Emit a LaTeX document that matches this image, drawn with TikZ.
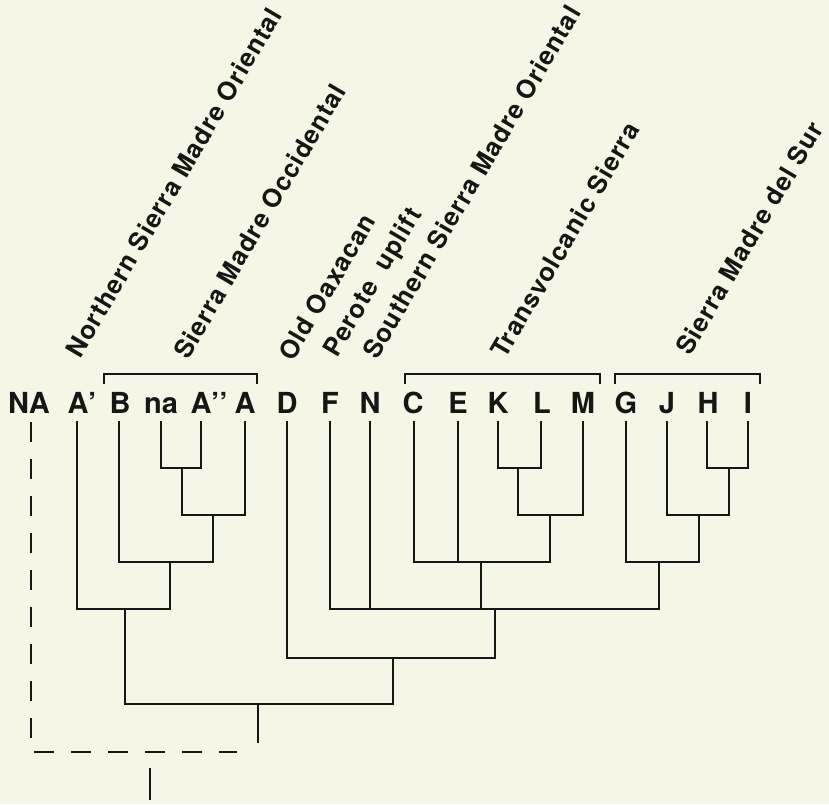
\documentclass[tikz,border=0pt]{standalone}
\usepackage{fontspec}
\setmainfont{TeX Gyre Heros}
\newfontfamily\spacedsans[LetterSpace=4]{TeX Gyre Heros}
\definecolor{paper}{RGB}{246,246,230}
\definecolor{ink}{RGB}{22,22,20}
\begin{document}
\begin{tikzpicture}[x=1pt,y=-1pt,
  branch/.style={draw=ink,line width=2.6pt,line cap=rect,line join=miter},
  guess/.style={draw=ink,line width=2.6pt,dash pattern=on 20pt off 17pt},
  brace/.style={draw=ink,line width=1.3pt},
  taxon/.style={inner sep=0pt,anchor=base,font=\fontsize{29}{29}\selectfont\bfseries,text=ink},
  region/.style={inner sep=0pt,anchor=base west,rotate=59.5,font=\spacedsans\fontsize{25.5}{25.5}\selectfont\bfseries,text=ink}]
\fill[paper] (0,0) rectangle (829,804);
\useasboundingbox (0,0) rectangle (829,804);

% terminal labels
\node[taxon] (NA) at (29,413) {NA};
\node[taxon] (Ap) at (78,413) {A\rlap{’}};
\node[taxon] (B)  at (120,413) {B};
\node[taxon] (na) at (161,413) {na};
\node[taxon] (App) at (201,413) {A\rlap{’’}};
\node[taxon] (A)  at (245,413) {A};
\node[taxon] (D)  at (287,413) {D};
\node[taxon] (F)  at (330,413) {F};
\node[taxon] (N)  at (370,413) {N};
\node[taxon] (C)  at (413,413) {C};
\node[taxon] (E)  at (458,413) {E};
\node[taxon] (K)  at (498,413) {K};
\node[taxon] (L)  at (542,413) {L};
\node[taxon] (M)  at (583,413) {M};
\node[taxon] (G)  at (626,413) {G};
\node[taxon] (J)  at (667,413) {J};
\node[taxon] (H)  at (708,413) {H};
\node[taxon] (I)  at (748,413) {I};

% area names
\node[region] (nsmo) at (80,360) {Northern Sierra Madre Oriental};
\node[region] (smoc) at (188,361) {Sierra Madre Occidental};
\node[region] (oax)  at (293,363) {Old Oaxacan};
\node[region] (per)  at (337,359) {Perote\ \ uplift};
\node[region] (ssmo) at (377,361) {Southern Sierra Madre Oriental};
\node[region] (tvs)  at (505,360) {Transvolcanic Sierra};
\node[region] (smds) at (690,357) {Sierra Madre del Sur};

% brackets over grouped areas
\draw[brace] (104,384) -- (104,374) -- (257,374) -- (257,384);
\draw[brace] (405,384) -- (405,374) -- (600,374) -- (600,384);
\draw[brace] (615,384) -- (615,374) -- (760,374) -- (760,384);

% tips of terminal branches
\coordinate (tNA) at (31,422);
\coordinate (tAp) at (77,422);
\coordinate (tB)  at (119,422);
\coordinate (tna) at (161,422);
\coordinate (tApp) at (201,422);
\coordinate (tA)  at (245,422);
\coordinate (tD)  at (287,422);
\coordinate (tF)  at (330,422);
\coordinate (tN)  at (370,422);
\coordinate (tC)  at (414,422);
\coordinate (tE)  at (458,422);
\coordinate (tK)  at (498,422);
\coordinate (tL)  at (541,422);
\coordinate (tM)  at (583,422);
\coordinate (tG)  at (626,422);
\coordinate (tJ)  at (667,422);
\coordinate (tH)  at (707,422);
\coordinate (tI)  at (748,422);

% internal nodes
\coordinate (nNaA) at (182,468);
\coordinate (nNaAA) at (213,515);
\coordinate (nB) at (170,562);
\coordinate (nW) at (125,609);
\coordinate (nKL) at (518,468);
\coordinate (nKLM) at (550,515);
\coordinate (nCE) at (481,562);
\coordinate (nHI) at (729,468);
\coordinate (nJHI) at (699,515);
\coordinate (nG) at (659,562);
\coordinate (nS) at (495,609);
\coordinate (nD) at (393,658);
\coordinate (root) at (258,704);
\coordinate (rootend) at (258,742);

% western clade
\draw[branch] (tna) |- (nNaA) -| (tApp);
\draw[branch] (nNaA) |- (nNaAA) -| (tA);
\draw[branch] (tB) |- (nB) -| (nNaAA);
\draw[branch] (tAp) |- (nW) -| (nB);

% southern clade
\draw[branch] (tK) |- (nKL) -| (tL);
\draw[branch] (nKL) |- (nKLM) -| (tM);
\draw[branch] (tC) |- (nCE) -| (nKLM);
\draw[branch] (tE) -- (tE |- nCE);
\draw[branch] (tH) |- (nHI) -| (tI);
\draw[branch] (tJ) |- (nJHI) -| (nHI);
\draw[branch] (tG) |- (nG) -| (nJHI);
\draw[branch] (tF) |- (nS) -| (nG);
\draw[branch] (tN) -- (tN |- nS);
\draw[branch] (nCE) -- (nCE |- nS);
\draw[branch] (tD) |- (nD) -| (nS);

% root
\draw[branch] (nW) |- (root) -| (nD);
\draw[branch] (root) -- (rootend);

% hypothetical link to NA
\coordinate (cornerNA) at (31,752);
\coordinate (endNA) at (237,752);
\draw[guess] (tNA) -- (cornerNA) -- (endNA);
\coordinate (stemtop) at (150,768);
\coordinate (stembot) at (150,800);
\draw[branch,line cap=butt] (stemtop) -- (stembot);
\end{tikzpicture}
\end{document}
